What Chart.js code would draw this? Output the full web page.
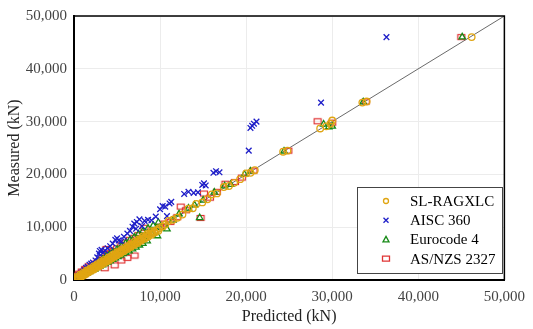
<html>
<head>
    <meta name="viewport" content="width=device-width">
    <script src="https://cdn.jsdelivr.net/npm/chart.js@4/dist/chart.umd.min.js"></script>
    <style>
        *{padding:0; margin:0; background-color: #fff;}
    </style>
</head>
<body>
    <canvas id="chart" width="533" height="329"></canvas>
    <script>
        // [predicted, measured] in kN
        var slPoints = [
            [150,140],[300,320],[420,390],[550,560],[680,650],[800,820],[900,870],[1050,1020],[1150,1180],[1300,1250],
            [1420,1400],[1550,1580],[1680,1620],[1800,1790],[1950,1900],[2050,2080],[2200,2150],[2350,2300],[2480,2500],[2600,2540],
            [2750,2720],[2900,2850],[3000,3050],[3150,3080],[3300,3250],[3450,3420],[3600,3520],[3750,3700],[3900,3880],[4050,3950],
            [4200,4150],[4350,4300],[4500,4380],[4650,4600],[4800,4750],[4950,4850],[5100,5050],[5300,5150],[5450,5400],[5600,5500],
            [5800,5700],[6000,5900],[6200,6100],[6400,6250],[6600,6500],[6800,6700],[7000,6850],[7250,7100],[7500,7350],[7700,7600],
            [7900,7850],[8200,8000],[8400,8300],[8700,8550],[9000,8800],[9300,9200],[9600,9500],[9900,9800],[10300,10150],[10600,10500],
            [200,50],[500,300],[800,550],[1100,850],[1400,1150],[1700,1450],[2000,1750],[2300,2000],[2600,2300],[2900,2600],
            [3200,2900],[3500,3200],[3800,3500],[4100,3800],[4400,4100],[4700,4400],[5000,4700],[5400,5050],[5800,5450],[6200,5850],
            [6600,6250],[7000,6650],[7400,7000],[7800,7450],[8200,7800],[8600,8200],[9000,8550],[9400,9000],[9800,9350],
            [300,600],[700,1000],[1100,1400],[1500,1800],[1900,2200],[2300,2600],[2700,3000],[3100,3400],[3500,3800],[4000,4250],
            [4500,4750],[5000,5250],[5500,5700],[6000,6200],[6500,6700],[7000,7200],[7500,7700],[8000,8250],[8500,8700],[9000,9250],
            [11000,11200],[11500,11400],[12000,11800],[12600,12400],[13300,13500],[13800,13600],[14200,14400],[14900,14700],[15500,15300],[16000,16200],
            [16600,16400],[17400,17600],[18000,17800],[18600,18400],[19300,19100],[20000,20200],[20500,20300],[21000,20800],[24300,24300],[24800,24500],
            [28600,28700],[29300,29100],[29800,29600],[30000,30200],[33500,33600],[34000,33800],[46200,46000]
        ];
        var aiscPoints = [
            [200,350],[400,700],[600,900],[800,1200],[1000,1500],[1200,1900],[1400,2300],[1600,2500],[1800,2900],[2000,3100],
            [2200,3300],[2500,3700],[2700,4300],[2900,5000],[3000,5500],[3200,5700],[3400,5200],[3600,5600],[3900,6000],[4200,6400],
            [4500,6900],[4800,7600],[5000,7900],[5200,7500],[5500,7300],[5800,8200],[6200,8800],[6500,9300],[6800,10100],[7000,10700],
            [7300,11000],[7600,11500],[7200,9700],[7900,10200],[8200,11200],[8600,11400],[9000,11300],[9500,12000],[10000,13400],[10300,14000],
            [10600,13900],[10800,12100],[11100,14500],[11300,14800],[12800,16300],[13300,16700],[13900,16500],[14400,16600],[14900,18000],[15100,18300],
            [15300,17900],[16200,20300],[16500,20600],[16900,20400],[20300,24500],[20500,28800],[20700,29200],[20900,29600],[21200,30000],[28700,33600],
            [36300,46000]
        ];
        var ec4Points = [
            [300,250],[600,500],[900,780],[1200,1050],[1500,1300],[1800,1550],[2100,1800],[2400,2050],[2700,2300],[3000,2600],
            [3300,2850],[3600,3100],[3900,3350],[4200,3600],[4500,3900],[4800,4150],[5100,4400],[5400,4700],[5700,4950],[6000,5200],
            [6400,5500],[6800,5850],[7200,6200],[7600,6600],[8000,6900],[8500,7400],
            [500,700],[900,1200],[1300,1700],[1700,2100],[2100,2600],[2500,3000],[2900,3500],[3300,3900],[3700,4400],[4100,4800],
            [4500,5300],[5000,5800],[5500,6400],[6000,7000],[6500,7600],[7000,8100],[7500,8700],[8000,9200],[8600,9800],[9200,10300],
            [9800,10900],
            [1000,950],[2000,1950],[3000,2950],[4000,3900],[5000,4950],[6000,5900],[7000,6950],[8000,7950],[9000,8900],[10000,9900],
            [9700,8350],[10800,9650],[11500,11300],[12200,12500],[13300,13600],[14000,14200],[14600,11800],[15000,15100],[16300,16600],[17500,17800],
            [18200,18100],[19800,20000],[20500,20600],[24400,24400],[29000,29500],[29600,29000],[30000,29100],[33600,33700],[45100,46000]
        ];
        var asnzsPoints = [
            [100,300],[250,500],[400,700],[600,900],[800,1150],[1000,1400],[1200,1600],[1400,1900],[1600,2100],[1900,2400],
            [2200,2800],[2500,3100],[2800,3500],[3100,3800],[3400,4200],[3800,4700],[4200,5100],[4600,5500],[5000,6000],[5500,6600],
            [6000,7100],[6500,7600],[7000,8000],[7500,8500],
            [300,800],[600,1200],[900,1600],[1300,2100],[1700,2600],
            [1000,1000],[2000,2000],[3000,3000],[4000,4000],[5000,5000],[6000,6000],[7000,7000],[8000,8000],[9000,9000],[10000,10100],
            [3570,2230],[4720,2780],[5500,3700],[7030,4640],[6200,4200],
            [3770,5880],[8180,9890],[10500,10700],[11200,11000],[12000,11900],[12400,13900],[13000,13200],[14700,11750],[15100,16380],[15800,15600],
            [16600,16700],[17600,18240],[18700,18550],[19500,19400],[20850,20720],[24900,24500],[28300,30060],[30000,29800],[33900,33800],[45000,46000]
        ];
        var equalityLine = [[0,0],[50000,50000]];
        var seriesNames = ['SL-RAGXLC', 'AISC 360', 'Eurocode 4', 'AS/NZS 2327'];
        var seriesColors = ['#E0A512', '#1E1EC8', '#178A17', '#E03434'];

        var serif = "'Liberation Serif', 'DejaVu Serif', serif";

        // wide hollow rectangle marker
        function rectMarker(color, w, h) {
            var c = document.createElement('canvas');
            c.width = w + 2; c.height = h + 2;
            var g = c.getContext('2d');
            g.strokeStyle = color; g.lineWidth = 1.2;
            g.strokeRect(1.5, 1.5, w - 1, h - 1);
            return c;
        }

        function drawMarker(ctx, i, x, y) {
            ctx.save();
            ctx.strokeStyle = seriesColors[i];
            ctx.lineWidth = 1.3;
            ctx.beginPath();
            if (i == 0) {
                ctx.arc(x, y, 2.5, 0, Math.PI * 2);
            } else if (i == 1) {
                ctx.moveTo(x - 2.5, y - 2.5); ctx.lineTo(x + 2.5, y + 2.5);
                ctx.moveTo(x + 2.5, y - 2.5); ctx.lineTo(x - 2.5, y + 2.5);
            } else if (i == 2) {
                ctx.moveTo(x, y - 3); ctx.lineTo(x + 3, y + 2.5); ctx.lineTo(x - 3, y + 2.5); ctx.closePath();
            } else {
                ctx.rect(x - 3.5, y - 2.5, 7, 5);
            }
            ctx.stroke();
            ctx.restore();
        }

        var framePlugin = {
            id: 'frame',
            afterDraw: function(chart) {
                var ctx = chart.ctx, a = chart.chartArea;
                ctx.save();
                ctx.strokeStyle = '#000';
                ctx.lineWidth = 1.5;
                ctx.beginPath();
                ctx.moveTo(a.left, a.top); ctx.lineTo(a.right, a.top); ctx.lineTo(a.right, a.bottom);
                ctx.stroke();
                // legend box
                var bx = 357, by = 187, bw = 145, bh = 86;
                ctx.fillStyle = '#fff';
                ctx.fillRect(bx, by, bw, bh);
                ctx.strokeStyle = '#444';
                ctx.lineWidth = 1;
                ctx.strokeRect(bx + 0.5, by + 0.5, bw, bh);
                ctx.font = '15px ' + serif;
                ctx.fillStyle = '#000';
                ctx.textBaseline = 'middle';
                seriesNames.forEach(function(name, i) {
                    var ry = 201 + i * 19.2;
                    drawMarker(ctx, i, 386, ry);
                    ctx.fillText(name, 410, ry + 1);
                });
                ctx.restore();
            }
        };

        function toXY(arr) {
            return arr.map(function(p) { return {x: p[0], y: p[1]}; });
        }

        var styles = ['circle', 'crossRot', 'triangle', rectMarker(seriesColors[3], 8, 6)];
        var radii = [3.3, 4, 3.7, 4];
        var datasets = [slPoints, aiscPoints, ec4Points, asnzsPoints].map(function(arr, i) {
            return {
                label: seriesNames[i],
                data: toXY(arr),
                pointStyle: styles[i],
                pointRadius: radii[i],
                pointBorderWidth: 1.3,
                borderColor: seriesColors[i],
                backgroundColor: 'rgba(0,0,0,0)',
                showLine: false,
                order: i
            };
        });
        datasets.push({
            label: 'equality',
            data: toXY(equalityLine),
            showLine: true,
            borderColor: '#444',
            borderWidth: 0.8,
            pointRadius: 0,
            order: 10
        });

        var ctx = document.getElementById("chart").getContext("2d");
        var config = {
            type: 'scatter',
            data: { datasets: datasets },
            options: {
                responsive: false,
                animation: false,
                devicePixelRatio: 1,
                layout: { padding: { top: 10, right: 25, left: 0, bottom: 0 } },
                plugins: { legend: { display: false }, tooltip: { enabled: false } },
                scales: {
                    x: {
                        min: 0, max: 50000,
                        afterFit: function(s) { s.height = 49; },
                        grid: { color: '#ECECEC', drawTicks: false },
                        border: { color: '#000', width: 2 },
                        ticks: { stepSize: 10000, padding: 8, color: '#444', font: { family: serif, size: 15 } },
                        title: { display: true, text: 'Predicted (kN)', color: '#222', padding: { bottom: 3, top: 0 }, font: { family: serif, size: 16 } }
                    },
                    y: {
                        min: 0, max: 50000,
                        afterFit: function(s) { s.width = 74; },
                        grid: { color: '#ECECEC', drawTicks: false },
                        border: { color: '#000', width: 2 },
                        ticks: { stepSize: 10000, padding: 7, color: '#444', font: { family: serif, size: 15 } },
                        title: { display: true, text: 'Measured (kN)', color: '#222', padding: { top: 5, bottom: 0 }, font: { family: serif, size: 16 } }
                    }
                }
            },
            plugins: [framePlugin]
        };
        var chart = new Chart(ctx, config);
    </script>
</body>
</html>
